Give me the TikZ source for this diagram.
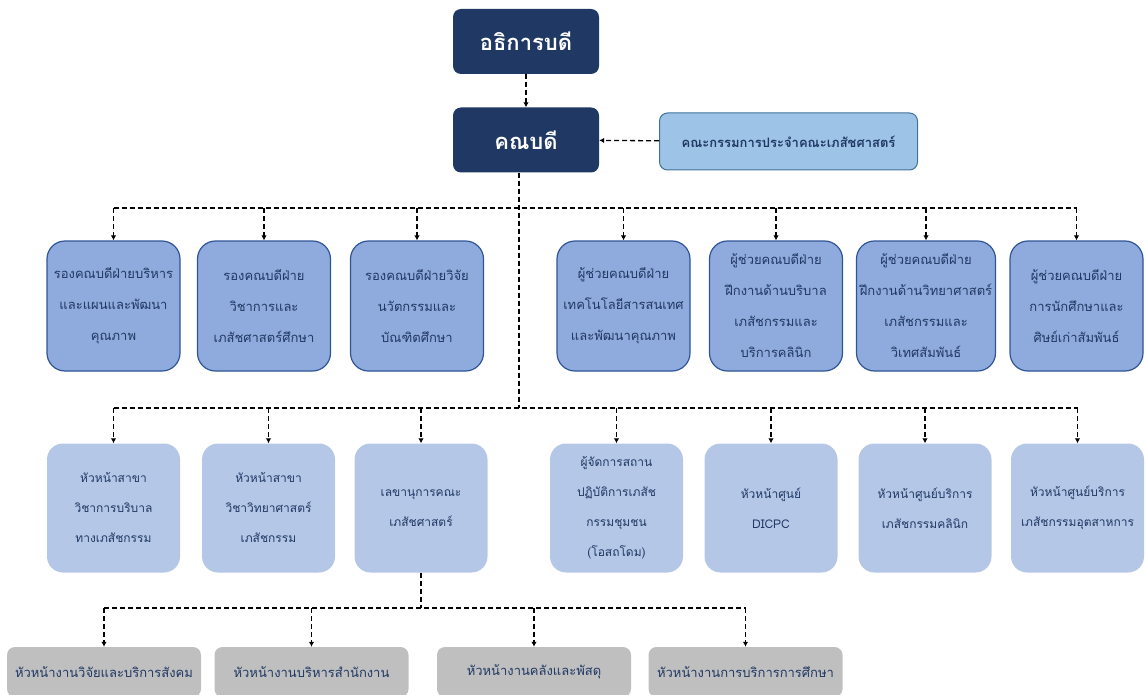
\documentclass[tikz,border=0pt]{standalone}
\usepackage{fontspec}
\newfontfamily\thaifont[Script=Thai]{Loma}
\usetikzlibrary{arrows.meta}

\definecolor{navy}{HTML}{203864}
\definecolor{boardfill}{HTML}{9DC3E6}
\definecolor{boardline}{HTML}{41719C}
\definecolor{vicefill}{HTML}{8FAADC}
\definecolor{viceline}{HTML}{2F5597}
\definecolor{headfill}{HTML}{B4C7E7}
\definecolor{unitfill}{HTML}{BFBFBF}

\tikzset{
  line/.style={line width=1.3pt, dash pattern=on 5pt off 3pt},
  link/.style={line, -{Latex[length=5pt,width=5.5pt]}},
  top box/.style={fill=navy, rounded corners=8pt, minimum width=146pt,
    minimum height=65pt, text=white, font=\thaifont\bfseries\fontsize{22}{26}\selectfont},
  board box/.style={fill=boardfill, draw=boardline, line width=1pt, rounded corners=8pt,
    minimum width=258pt, minimum height=57pt, text=navy,
    font=\thaifont\bfseries\fontsize{13}{16}\selectfont},
  vice box/.style={fill=vicefill, draw=viceline, line width=1.2pt, rounded corners=18pt,
    minimum width=133pt, minimum height=130pt, align=center, text=navy,
    font=\thaifont\fontsize{13}{31}\selectfont},
  head box/.style={fill=headfill, rounded corners=16pt,
    minimum width=133pt, minimum height=129pt, align=center, text=navy,
    font=\thaifont\fontsize{12}{30}\selectfont},
  unit box/.style={fill=unitfill, rounded corners=8pt,
    minimum width=194pt, minimum height=50pt, text=navy,
    font=\thaifont\fontsize{13}{16}\selectfont}
}

\begin{document}
\begin{tikzpicture}[x=1pt, y=-1pt]

    \useasboundingbox (0,0) rectangle (1145,695);
    \clip (0,0) rectangle (1145,695);

    \coordinate (row one bus)   at (519,208);
    \coordinate (row two bus)   at (519,408);
    \coordinate (row three bus) at (421,608);

    % top of the chart
    \node[top box] (rector) at (526,41.5) {อธิการบดี};
    \node[top box] (dean)   at (526,140)  {คณบดี};
    \node[board box] (board) at (788.5,141.5) {คณะกรรมการประจำคณะเภสัชศาสตร์};

    \draw[link] (rector) -- (dean);
    \draw[link] (board) -- (dean);

    % deputy and assistant deans
    \foreach \x/\txt [count=\i] in {
      113.5/{รองคณบดีฝ่ายบริหาร\\และแผนและพัฒนา\\คุณภาพ},
      264/{รองคณบดีฝ่าย\\วิชาการและ\\เภสัชศาสตร์ศึกษา},
      417/{รองคณบดีฝ่ายวิจัย\\นวัตกรรมและ\\บัณฑิตศึกษา},
      623.5/{ผู้ช่วยคณบดีฝ่าย\\เทคโนโลยีสารสนเทศ\\และพัฒนาคุณภาพ},
      776/{ผู้ช่วยคณบดีฝ่าย\\ฝึกงานด้านบริบาล\\เภสัชกรรมและ\\บริการคลินิก},
      926/{ผู้ช่วยคณบดีฝ่าย\\ฝึกงานด้านวิทยาศาสตร์\\เภสัชกรรมและ\\วิเทศสัมพันธ์},
      1076.5/{ผู้ช่วยคณบดีฝ่าย\\การนักศึกษาและ\\ศิษย์เก่าสัมพันธ์}}
    \node[vice box] (vice \i) at (\x,306) {\txt};

    % heads of departments and centres
    \foreach \x/\txt [count=\i] in {
      113.5/{หัวหน้าสาขา\\วิชาการบริบาล\\ทางเภสัชกรรม},
      268.5/{หัวหน้าสาขา\\วิชาวิทยาศาสตร์\\เภสัชกรรม},
      421/{เลขานุการคณะ\\เภสัชศาสตร์},
      616.5/{ผู้จัดการสถาน\\ปฏิบัติการเภสัช\\กรรมชุมชน\\(โอสถโดม)},
      771/{หัวหน้าศูนย์\\DICPC},
      925/{หัวหน้าศูนย์บริการ\\เภสัชกรรมคลินิก},
      1077.5/{หัวหน้าศูนย์บริการ\\เภสัชกรรมอุตสาหการ}}
    \node[head box] (head \i) at (\x,508) {\txt};

    % office units
    \foreach \x/\txt [count=\i] in {
      104/{หัวหน้างานวิจัยและบริการสังคม},
      311.5/{หัวหน้างานบริหารสำนักงาน},
      534/{หัวหน้างานคลังและพัสดุ},
      745.5/{หัวหน้างานการบริการการศึกษา}}
    \node[unit box] (unit \i) at (\x,672) {\txt};

    % connectors
    \draw[line] ([xshift=-7pt]dean.south) -- (row two bus);
    \draw[line] (vice 1.north |- row one bus) -- (vice 7.north |- row one bus);
    \foreach \i in {1,...,7}
    \draw[link] (vice \i.north |- row one bus) -- (vice \i.north);

    \draw[line] (head 1.north |- row two bus) -- (head 7.north |- row two bus);
    \foreach \i in {1,...,7}
    \draw[link] (head \i.north |- row two bus) -- (head \i.north);

    \draw[line] (head 3.south) -- (row three bus);
    \draw[line] (unit 1.north |- row three bus) -- (unit 4.north |- row three bus);
    \foreach \i in {1,...,4}
    \draw[link] (unit \i.north |- row three bus) -- (unit \i.north);
  \end{tikzpicture}
\end{document}
